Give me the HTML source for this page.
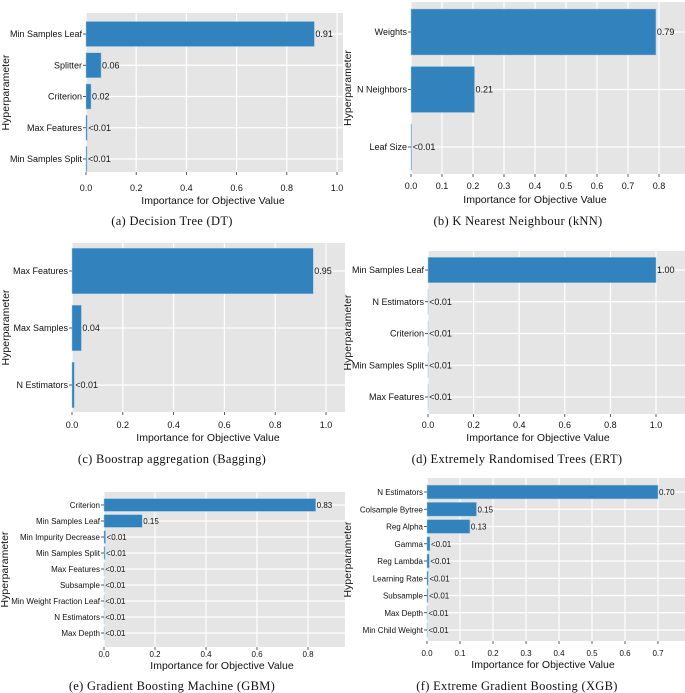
<!DOCTYPE html>
<html><head><meta charset="utf-8">
<style>
html,body{margin:0;padding:0;background:#fff;}
svg{display:block;}
.tk{font-family:"Liberation Sans",sans-serif;font-size:9px;fill:#111;}
.tks{font-family:"Liberation Sans",sans-serif;font-size:8px;fill:#111;}
.xl{font-family:"Liberation Sans",sans-serif;font-size:10.5px;fill:#111;}
.cap{font-family:"Liberation Serif",serif;font-size:12.5px;fill:#111;letter-spacing:0.3px;}
</style></head>
<body>
<svg id="fig" width="685" height="693" viewBox="0 0 685 693" xmlns="http://www.w3.org/2000/svg"></svg>
<script>
// Panel data
const dtCategories = ["Min Samples Leaf","Splitter","Criterion","Max Features","Min Samples Split"];
const dtValues = [0.91,0.06,0.02,0.005,0.004];
const dtLabels = ["0.91","0.06","0.02","<0.01","<0.01"];
const dtTicks = [0,0.2,0.4,0.6,0.8,1.0];

const knnCategories = ["Weights","N Neighbors","Leaf Size"];
const knnValues = [0.79,0.205,0.002];
const knnLabels = ["0.79","0.21","<0.01"];
const knnTicks = [0,0.1,0.2,0.3,0.4,0.5,0.6,0.7,0.8];

const bagCategories = ["Max Features","Max Samples","N Estimators"];
const bagValues = [0.95,0.037,0.009];
const bagLabels = ["0.95","0.04","<0.01"];
const bagTicks = [0,0.2,0.4,0.6,0.8,1.0];

const ertCategories = ["Min Samples Leaf","N Estimators","Criterion","Min Samples Split","Max Features"];
const ertValues = [1.0,0.0005,0.0005,0.0005,0.0005];
const ertLabels = ["1.00","<0.01","<0.01","<0.01","<0.01"];
const ertTicks = [0,0.2,0.4,0.6,0.8,1.0];

const gbmCategories = ["Criterion","Min Samples Leaf","Min Impurity Decrease","Min Samples Split","Max Features","Subsample","Min Weight Fraction Leaf","N Estimators","Max Depth"];
const gbmValues = [0.83,0.15,0.006,0.004,0.001,0.001,0.001,0.001,0.001];
const gbmLabels = ["0.83","0.15","<0.01","<0.01","<0.01","<0.01","<0.01","<0.01","<0.01"];
const gbmTicks = [0,0.2,0.4,0.6,0.8];

const xgbCategories = ["N Estimators","Colsample Bytree","Reg Alpha","Gamma","Reg Lambda","Learning Rate","Subsample","Max Depth","Min Child Weight"];
const xgbValues = [0.70,0.15,0.13,0.009,0.007,0.004,0.003,0.001,0.001];
const xgbLabels = ["0.70","0.15","0.13","<0.01","<0.01","<0.01","<0.01","<0.01","<0.01"];
const xgbTicks = [0,0.1,0.2,0.3,0.4,0.5,0.6,0.7];

const NS="http://www.w3.org/2000/svg";
const fig=document.getElementById('fig');
function mk(tag,attrs,parent){const e=document.createElementNS(NS,tag);for(const k in attrs)e.setAttribute(k,attrs[k]);parent.appendChild(e);return e;}

function panel(id,cats,vals,labs,ticks,L){
  const g=mk('g',{},fig);
  
  
  const cls=L.small?'tks':'tk';
  const x=v=>L.x0+v*L.k;
  const n=cats.length;
  const step=(L.cLast-L.c0)/(n-1);
  const y=i=>L.c0+i*step;
  const bg=mk('rect',{x:L.x0,y:L.top,width:L.right-L.x0,height:L.bottom-L.top,fill:'#e5e5e5'},g);
  
  
  ticks.forEach(t=>{mk('line',{x1:x(t),x2:x(t),y1:L.top,y2:L.bottom,stroke:'#fff','stroke-width':1.2},g);});
  cats.forEach((c,i)=>{mk('line',{x1:L.x0,x2:L.right,y1:y(i),y2:y(i),stroke:'#fff','stroke-width':1.2},g);});
  const bh=step*0.8;
  cats.forEach((c,i)=>{
    const b=mk('rect',{x:x(0),y:y(i)-bh/2,width:Math.max(0,x(vals[i])-x(0)),height:bh,fill:'#3182bd',stroke:'#9ecae1','stroke-width':0.5},g);
    
    
    const vt=mk('text',{x:x(vals[i])+1,y:y(i)+3,class:cls},g);vt.textContent=labs[i];
    
    
    mk('line',{x1:L.x0-3,x2:L.x0,y1:y(i),y2:y(i),stroke:'#333','stroke-width':0.8},g);
    const ct=mk('text',{x:L.x0-4,y:y(i)+3,class:cls,'text-anchor':'end'},g);ct.textContent=c;
    
    
  });
  ticks.forEach(t=>{
    mk('line',{x1:x(t),x2:x(t),y1:L.bottom,y2:L.bottom+3,stroke:'#333','stroke-width':0.8},g);
    const tt=mk('text',{x:x(t),y:L.tickY,class:cls,'text-anchor':'middle'},g);tt.textContent=t.toFixed(1);
    
    
  });
  const xl=mk('text',{x:(L.x0+L.xlC),y:L.xlY,class:'xl','text-anchor':'middle'},g);xl.textContent='Importance for Objective Value';
  
  
  const yc=(L.top+L.bottom)/2;
  const yl=mk('text',{x:L.ylX,y:yc,class:'xl','text-anchor':'middle',transform:'rotate(-90 '+L.ylX+' '+yc+')'},g);yl.textContent='Hyperparameter';
  
  
  const cp=mk('text',{x:L.capX,y:L.capY,class:'cap','text-anchor':'middle'},g);cp.textContent=L.cap;
  
  
}

panel('dt',dtCategories,dtValues,dtLabels,dtTicks,{x0:86,k:251,right:343,top:13,bottom:172,c0:34,cLast:159,tickY:191,xlC:127,xlY:204,ylX:9,capX:172,capY:225,cap:'(a) Decision Tree (DT)'});
panel('knn',knnCategories,knnValues,knnLabels,knnTicks,{x0:411,k:310,right:685,top:2,bottom:174,c0:32,cLast:147,tickY:189,xlC:124,xlY:203,ylX:351,capX:518,capY:225,cap:'(b) K Nearest Neighbour (kNN)'});
panel('bag',bagCategories,bagValues,bagLabels,bagTicks,{x0:72,k:254,right:345,top:243,bottom:412,c0:271,cLast:385,tickY:428,xlC:136,xlY:441,ylX:9,capX:172,capY:463,cap:'(c) Boostrap aggregation (Bagging)'});
panel('ert',ertCategories,ertValues,ertLabels,ertTicks,{x0:428,k:228,right:685,top:251,bottom:414,c0:270,cLast:397,tickY:428,xlC:110,xlY:441,ylX:351,capX:517,capY:463,cap:'(d) Extremely Randomised Trees (ERT)'});
panel('gbm',gbmCategories,gbmValues,gbmLabels,gbmTicks,{small:true,x0:104,k:255,right:345,top:492,bottom:647,c0:505,cLast:633,tickY:657,xlC:118,xlY:669,ylX:8,capX:172,capY:690,cap:'(e) Gradient Boosting Machine (GBM)'});
panel('xgb',xgbCategories,xgbValues,xgbLabels,xgbTicks,{small:true,x0:427,k:330,right:685,top:478,bottom:641,c0:492,cLast:630,tickY:656,xlC:116,xlY:668,ylX:351,capX:517,capY:690,cap:'(f) Extreme Gradient Boosting (XGB)'});
</script>
</body></html>
